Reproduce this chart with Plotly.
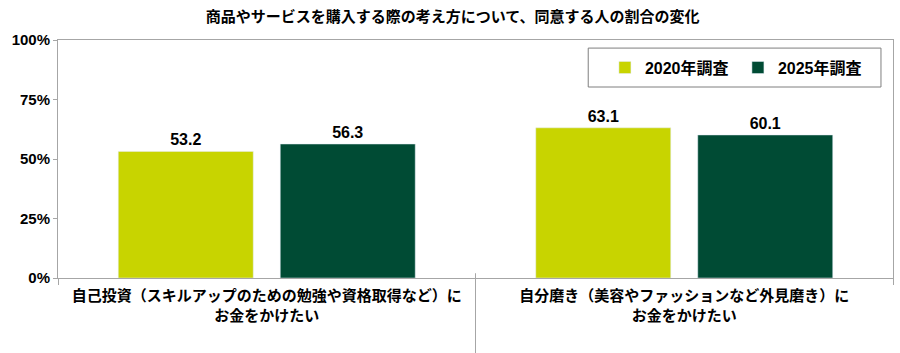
import plotly.graph_objects as go

categories = ["自己投資（スキルアップのための勉強や資格取得など）に<br>お金をかけたい",
              "自分磨き（美容やファッションなど外見磨き）に<br>お金をかけたい"]
series_names = ["2020年調査", "2025年調査"]
values_2020 = [53.2, 63.1]
values_2025 = [56.3, 60.1]
colors = ["#c8d400", "#004b34"]
y_ticks = [0, 25, 50, 75, 100]
y_ticktext = ["0%", "25%", "50%", "75%", "100%"]
title_text = "商品やサービスを購入する際の考え方について、同意する人の割合の変化"

JP = "Noto Sans CJK JP"
LAT = "Liberation Sans, Arial, Noto Sans CJK JP"

fig = go.Figure()
for name, vals, col in zip(series_names, [values_2020, values_2025], colors):
    fig.add_trace(go.Bar(
        name=name, x=categories, y=vals, marker_color=col,
        text=[f"{v:.1f}" for v in vals],
        textposition="outside",
        textfont=dict(family=LAT, size=16, color="#000", weight="bold"),
        cliponaxis=False,
    ))

fig.update_layout(
    width=900, height=353,
    margin=dict(l=58, r=7, t=40, b=75),
    paper_bgcolor="white", plot_bgcolor="white",
    barmode="group", bargap=0.224, bargroupgap=0.1667,
    title=dict(text=title_text, x=0.503, xref="container", xanchor="center",
               y=1 - 17 / 353, yref="container", yanchor="middle",
               font=dict(family=JP, size=15, color="#000", weight="bold")),
    showlegend=True,
    legend=dict(orientation="h", x=0.655, xanchor="left", y=0.884, yanchor="middle",
                bgcolor="rgba(0,0,0,0)", entrywidth=88, entrywidthmode="pixels",
                font=dict(family=LAT, size=16, color="#000", weight="bold"),
                itemwidth=30),
    xaxis=dict(type="category", showline=True, linecolor="#a6a6a6", linewidth=1, mirror=True,
               ticks="outside", tickson="boundaries", ticklen=6, tickcolor="#a6a6a6",
               tickangle=0, automargin=False, ticklabelstandoff=4,
               tickfont=dict(family=JP, size=15, color="#000", weight="bold")),
    yaxis=dict(range=[0, 100], tickvals=y_ticks, ticktext=y_ticktext, automargin=False,
               showline=True, linecolor="#a6a6a6", linewidth=1, mirror=True,
               showgrid=False, zeroline=False, ticks="outside", ticklen=4, tickcolor="#a6a6a6",
               tickfont=dict(family=LAT, size=15, color="#000", weight="bold")),
)

# legend frame
fig.add_shape(type="rect", xref="paper", yref="paper", x0=0.635, x1=0.9856, y0=0.8025, y1=0.966,
              line=dict(color="#7f7f7f", width=1), fillcolor="white", layer="below")
# category divider extending below axis
fig.add_shape(type="line", xref="x", yref="paper", x0=0.5, x1=0.5, y0=0.02, y1=-0.32,
              line=dict(color="#a6a6a6", width=1))

fig.write_html("out.html")
